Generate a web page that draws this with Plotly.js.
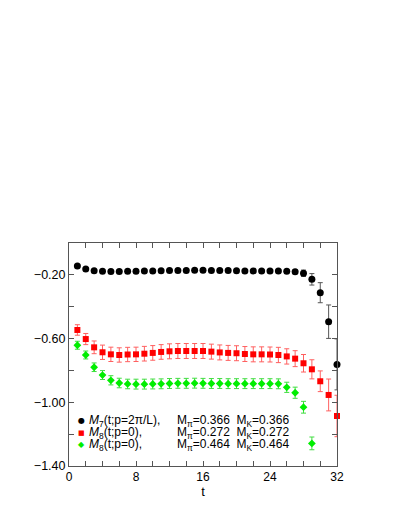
<!DOCTYPE html>
<html>
<head>
<meta charset="utf-8">
<script src="https://cdn.plot.ly/plotly-3.0.1.min.js"></script>
<style>
  html, body { margin: 0; padding: 0; background: #fff; }
  #chart { width: 407px; height: 527px; }
</style>
</head>
<body>
<div id="chart"></div>
<script>
// time slices
const tBlack = [1,2,3,4,5,6,7,8,9,10,11,12,13,14,15,16,17,18,19,20,21,22,23,24,25,26,27,28,29,30,31,32];
const tRed = tBlack;
const tGreen = [1,2,3,4,5,6,7,8,9,10,11,12,13,14,15,16,17,18,19,20,21,22,23,24,25,26,27,28,29];

// M7(t;p=2pi/L), Mpi=0.366 MK=0.366
const m7 = [-0.144,-0.163,-0.174,-0.178,-0.179,-0.179,-0.178,-0.177,-0.176,-0.175,-0.174,-0.173,-0.172,-0.172,-0.171,-0.171,
            -0.172,-0.172,-0.172,-0.174,-0.175,-0.175,-0.176,-0.176,-0.176,-0.177,-0.180,-0.190,-0.228,-0.312,-0.494,-0.762];
const m7Err = [0.008,0.008,0.008,0.008,0.008,0.008,0.008,0.008,0.008,0.008,0.008,0.008,0.008,0.008,0.008,0.008,
               0.008,0.008,0.008,0.008,0.008,0.008,0.008,0.009,0.010,0.010,0.012,0.020,0.036,0.063,0.105,0.160];

// M8(t;p=0), Mpi=0.272 MK=0.272
const m8a = [-0.546,-0.603,-0.655,-0.686,-0.699,-0.703,-0.700,-0.699,-0.695,-0.690,-0.684,-0.680,-0.678,-0.678,-0.678,-0.678,
             -0.682,-0.687,-0.690,-0.692,-0.697,-0.699,-0.699,-0.700,-0.703,-0.712,-0.726,-0.755,-0.793,-0.868,-0.954,-1.086];
const m8aErr = [0.033,0.035,0.040,0.045,0.045,0.045,0.045,0.045,0.046,0.046,0.046,0.047,0.047,0.047,0.047,0.047,
                0.047,0.047,0.047,0.047,0.047,0.047,0.047,0.047,0.048,0.048,0.050,0.055,0.060,0.065,0.100,0.130];

// M8(t;p=0), Mpi=0.464 MK=0.464
const m8b = [-0.642,-0.703,-0.780,-0.829,-0.862,-0.879,-0.885,-0.886,-0.886,-0.885,-0.884,-0.882,-0.881,-0.881,-0.880,-0.881,
             -0.882,-0.882,-0.883,-0.883,-0.883,-0.883,-0.883,-0.883,-0.884,-0.906,-0.940,-1.031,-1.258];
const m8bErr = [0.025,0.025,0.027,0.028,0.029,0.030,0.030,0.031,0.031,0.031,0.031,0.031,0.031,0.031,0.031,0.031,
                0.031,0.031,0.031,0.031,0.031,0.031,0.031,0.031,0.031,0.032,0.035,0.037,0.040];

const legendLabels = ['<i>M</i><sub>7</sub>(t;p=2π/L),', '<i>M</i><sub>8</sub>(t;p=0),', '<i>M</i><sub>8</sub>(t;p=0),'];
const legendMasses = ['M<sub>π</sub>=0.366\u00a0\u00a0M<sub>K</sub>=0.366', 'M<sub>π</sub>=0.272\u00a0\u00a0M<sub>K</sub>=0.272', 'M<sub>π</sub>=0.464\u00a0\u00a0M<sub>K</sub>=0.464'];
const legendSymbols = ['●', '■', '◆'];
const colors = ['#000000', '#ff0000', '#00ee00'];
const barColors = ['#555555', '#ff6060', '#40dd40'];

const FONT = 'Liberation Sans, Arial, Helvetica, sans-serif';

function series(x, y, err, i, symbol, size) {
    return {
        x: x, y: y,
        type: 'scatter', mode: 'markers',
        marker: { symbol: symbol, size: size, color: colors[i] },
        error_y: { type: 'data', array: err, visible: true, color: barColors[i], thickness: 1, width: 2.5 },
        showlegend: false,
        cliponaxis: false
    };
}

const data = [
    series(tBlack, m7, m7Err, 0, 'circle', 7),
    series(tRed, m8a, m8aErr, 1, 'square', 6),
    series(tGreen, m8b, m8bErr, 2, 'diamond', 6)
];

// legend drawn as annotations so the rows sit close together like the original
const rowY = [-1.117, -1.193, -1.268];
const annotations = [];
for (let i = 0; i < 3; i++) {
    annotations.push({ xref: 'x', yref: 'y', x: 1.45, y: rowY[i], text: legendSymbols[i], showarrow: false,
        font: { family: 'DejaVu Sans', size: i === 1 ? 7 : 8, color: colors[i] }, xanchor: 'center', yanchor: 'middle' });
    annotations.push({ xref: 'x', yref: 'y', x: 2.15, y: rowY[i], text: legendLabels[i], showarrow: false,
        font: { family: FONT, size: 12, color: '#000' }, xanchor: 'left', yanchor: 'middle' });
    annotations.push({ xref: 'x', yref: 'y', x: 12.66, y: rowY[i], text: legendMasses[i], showarrow: false,
        font: { family: FONT, size: 12, color: '#000' }, xanchor: 'left', yanchor: 'middle' });
}

const layout = {
    width: 407, height: 527,
    margin: { l: 69, r: 70, t: 243, b: 61 },
    paper_bgcolor: '#fff', plot_bgcolor: '#fff',
    font: { family: FONT, size: 12, color: '#000' },
    xaxis: {
        range: [0, 32],
        tick0: 0, dtick: 8,
        ticks: 'inside', ticklen: 5, tickcolor: '#555',
        minor: { dtick: 2, ticks: 'inside', ticklen: 5, tickcolor: '#555' },
        showline: true, linecolor: '#555', linewidth: 1, mirror: 'ticks',
        showgrid: false, zeroline: false,
        title: { text: 't', font: { size: 13 }, standoff: 1 },
        tickfont: { size: 12 }
    },
    yaxis: {
        range: [-1.4, 0],
        tick0: -0.2, dtick: 0.4, tickformat: '.2f',
        ticks: 'inside', ticklen: 5, tickcolor: '#555',
        minor: { dtick: 0.2, ticks: 'inside', ticklen: 5, tickcolor: '#555' },
        showline: true, linecolor: '#555', linewidth: 1, mirror: 'ticks',
        showgrid: false, zeroline: false,
        tickfont: { size: 12.5 }
    },
    annotations: annotations,
    showlegend: false
};

Plotly.newPlot('chart', data, layout, { displayModeBar: false, staticPlot: true });
</script>
</body>
</html>
